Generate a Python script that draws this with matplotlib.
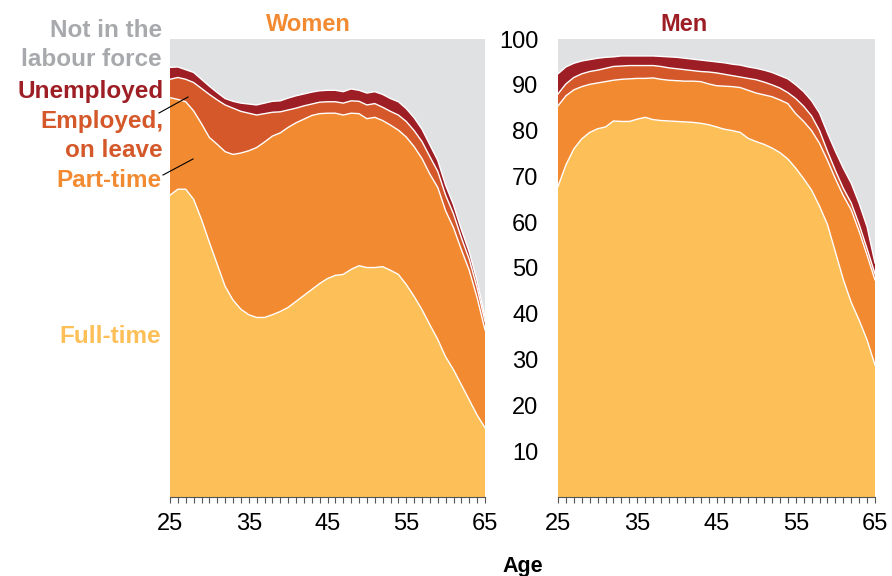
import numpy as np
import matplotlib.pyplot as plt
from matplotlib.lines import Line2D

plt.rcParams['font.family'] = ['Liberation Sans', 'DejaVu Sans']

ages = np.arange(25, 66)

# shares of population, per cent (stacked bottom to top)
women_full = [65.9, 67.2, 67.2, 65.0, 60.6, 55.6, 50.8, 46.0, 43.0, 41.0,
              39.8, 39.2, 39.2, 39.8, 40.5, 41.4, 42.7, 44.0, 45.3, 46.6,
              47.7, 48.4, 48.6, 49.7, 50.5, 50.1, 50.1, 50.3, 49.5, 48.6,
              46.4, 43.8, 40.9, 37.6, 34.4, 30.6, 27.8, 24.5, 21.2, 17.9, 15.1]
women_part = [21.3, 19.6, 19.1, 19.3, 20.9, 22.9, 26.2, 29.4, 31.8, 34.1,
              35.8, 37.1, 38.3, 39.0, 39.0, 39.3, 39.0, 38.5, 38.0, 37.1,
              36.1, 35.4, 34.8, 34.1, 33.2, 32.5, 32.8, 31.9, 31.7, 31.5,
              32.2, 32.7, 33.0, 32.9, 33.2, 31.9, 31.0, 29.5, 28.3, 25.6, 21.4]
women_leave = [4.0, 4.8, 4.9, 6.2, 7.7, 9.4, 9.7, 10.2, 10.1, 9.1,
               8.2, 7.1, 6.2, 5.2, 4.6, 3.8, 3.2, 2.9, 2.5, 2.5,
               2.5, 2.5, 2.6, 2.7, 2.7, 3.0, 3.0, 2.9, 3.0, 3.3,
               3.4, 3.5, 3.7, 3.8, 3.5, 3.4, 3.0, 2.6, 2.4, 2.2, 1.8]
women_unemp = [2.6, 2.3, 2.1, 2.2, 2.0, 1.8, 1.6, 1.4, 1.5, 1.8,
               2.0, 2.2, 2.3, 2.4, 2.4, 2.6, 2.7, 2.6, 2.6, 2.5,
               2.5, 2.5, 2.5, 2.6, 2.4, 2.6, 2.6, 2.8, 2.8, 2.9,
               2.8, 2.8, 2.7, 2.6, 2.4, 2.2, 2.0, 1.8, 1.6, 1.4, 1.0]

men_full = [67.8, 72.5, 76.0, 78.2, 79.6, 80.4, 80.8, 82.1, 82.0, 82.0,
            82.5, 82.9, 82.4, 82.2, 82.1, 82.0, 81.9, 81.8, 81.6, 81.3,
            80.8, 80.3, 80.0, 79.6, 78.3, 77.6, 77.0, 76.2, 75.2, 73.8,
            71.8, 69.5, 67.0, 63.5, 59.5, 53.5, 47.5, 42.5, 38.6, 34.3, 28.8]
men_part = [17.6, 15.1, 12.9, 11.4, 10.5, 10.0, 9.9, 8.9, 9.2, 9.3,
            8.9, 8.5, 9.1, 9.0, 8.9, 8.9, 8.9, 9.0, 9.1, 8.9,
            9.0, 9.4, 9.6, 9.8, 10.5, 10.6, 10.8, 11.2, 11.5, 12.1,
            11.9, 12.5, 13.0, 13.7, 14.0, 16.0, 18.3, 20.2, 19.4, 18.5, 18.6]
men_leave = [2.6, 2.6, 2.7, 2.8, 2.8, 2.8, 2.9, 3.0, 2.9, 2.9,
             2.8, 2.8, 2.7, 2.8, 2.7, 2.6, 2.5, 2.3, 2.2, 2.6,
             2.8, 2.6, 2.4, 2.3, 2.6, 2.9, 2.8, 2.6, 2.6, 2.4,
             3.3, 3.3, 3.2, 2.8, 2.0, 1.8, 1.6, 1.5, 1.5, 1.4, 1.3]
men_unemp = [4.4, 3.7, 3.1, 2.8, 2.6, 2.6, 2.4, 2.1, 2.2, 2.1,
             2.1, 2.1, 2.1, 2.2, 2.4, 2.5, 2.5, 2.5, 2.5, 2.4,
             2.4, 2.5, 2.5, 2.6, 2.5, 2.5, 2.6, 2.7, 2.7, 3.0,
             3.0, 3.2, 3.3, 3.8, 4.0, 4.2, 4.4, 4.3, 4.6, 4.8, 2.4]

x_ticks = [25, 35, 45, 55, 65]
y_ticks = [10, 20, 30, 40, 50, 60, 70, 80, 90, 100]

c_full = '#FDBF57'
c_part = '#F28A31'
c_leave = '#D4582A'
c_unemp = '#9D1F25'
c_nilf = '#E0E1E3'
c_nilf_txt = '#A7A9AC'
colors = [c_full, c_part, c_leave, c_unemp]

W, H = 892, 576
fig = plt.figure(figsize=(W / 100, H / 100), dpi=100)
ax_w = fig.add_axes([170 / W, 79 / H, 315 / W, 458 / H])
ax_m = fig.add_axes([558 / W, 79 / H, 317 / W, 458 / H])


def draw_panel(ax, layers):
    ax.set_facecolor(c_nilf)
    ax.stackplot(ages, layers, colors=colors, lw=0)
    tops = np.cumsum(np.array(layers), axis=0)
    for row in tops:
        ax.plot(ages, row, color='white', lw=1)
    ax.set_xlim(25, 65)
    ax.set_ylim(0, 100)
    for s in ['top', 'left', 'right']:
        ax.spines[s].set_visible(False)
    ax.spines['bottom'].set_color('#555555')
    ax.spines['bottom'].set_linewidth(0.8)
    ax.set_xticks(x_ticks)
    ax.set_xticks(ages, minor=True)
    ax.tick_params(axis='x', which='both', direction='out', length=4.5,
                   width=0.8, color='#555555', labelsize=17, pad=7)


draw_panel(ax_w, [women_full, women_part, women_leave, women_unemp])
draw_panel(ax_m, [men_full, men_part, men_leave, men_unemp])

ax_w.set_yticks([])
ax_m.set_yticks(y_ticks)
ax_m.tick_params(axis='y', length=0, labelsize=17, pad=14)


def ftext(x, y, s, **kw):
    fig.text(x / W, 1 - y / H, s, **kw)


ftext(308, 31, 'Women', color=c_part, fontsize=17, fontweight='bold',
      ha='center', va='baseline')
ftext(684, 31, 'Men', color=c_unemp, fontsize=17, fontweight='bold',
      ha='center', va='baseline')
ftext(523, 572, 'Age', color='black', fontsize=15.5, fontweight='bold',
      ha='center', va='baseline')

lab = dict(fontsize=17.5, fontweight='bold', ha='right', va='baseline')
ftext(162, 37, 'Not in the', color=c_nilf_txt, **lab)
ftext(162, 66, 'labour force', color=c_nilf_txt, **lab)
ftext(164, 98, 'Unemployed', color=c_unemp, **lab)
ftext(163, 128, 'Employed,', color=c_leave, **lab)
ftext(163, 157, 'on leave', color=c_leave, **lab)
ftext(162, 187, 'Part-time', color=c_part, **lab)
ftext(161, 343, 'Full-time', color=c_full, **lab)

for (x0, y0), (x1, y1) in [((159, 113), (188, 97)), ((163, 175), (193, 159))]:
    fig.add_artist(Line2D([x0 / W, x1 / W], [1 - y0 / H, 1 - y1 / H],
                          color='black', lw=0.8, transform=fig.transFigure))

fig.savefig('out.png', dpi=100)
